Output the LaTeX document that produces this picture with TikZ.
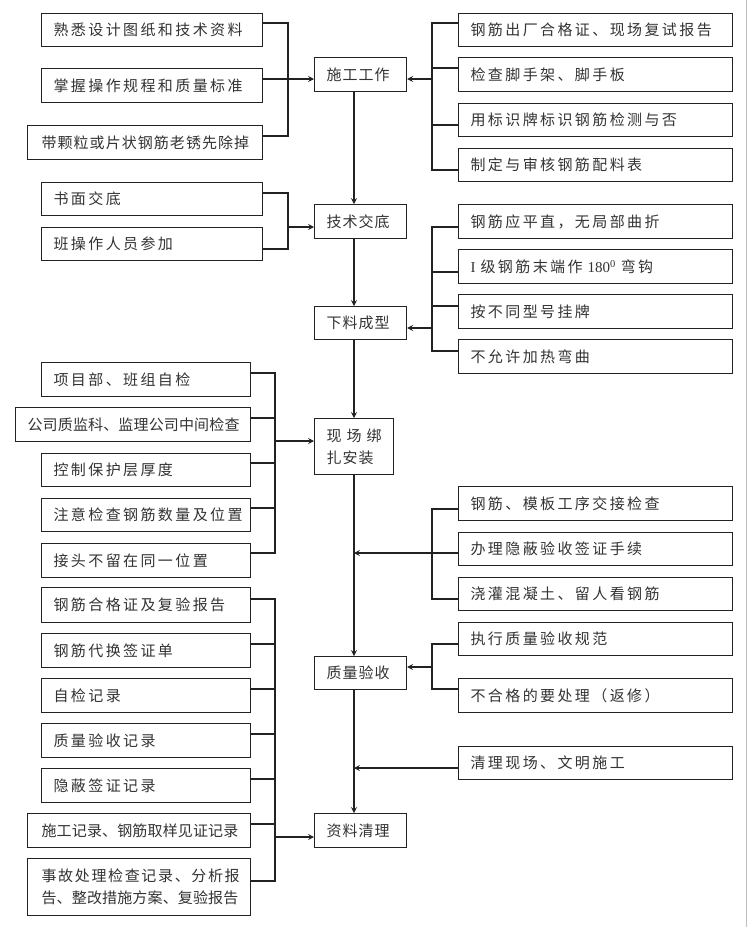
\documentclass[tikz,border=0pt]{standalone}
\usepackage{fontspec}
\setmainfont{Noto Sans CJK SC}
\newfontfamily\cjkA[LetterSpace=16]{Noto Sans CJK SC}
\newfontfamily\cjkB[LetterSpace=7]{Noto Sans CJK SC}
\newfontfamily\cjkC[LetterSpace=1]{Noto Sans CJK SC}
\newfontfamily\cjkD[LetterSpace=11]{Noto Sans CJK SC}
\newfontfamily\latin{Liberation Serif}
\usetikzlibrary{arrows.meta,calc}
\definecolor{ln}{HTML}{222222}
\definecolor{tx}{HTML}{333333}
\tikzset{
  box/.style={draw=ln, line width=1.2pt, inner xsep=12pt, inner ysep=0pt, align=left, text=tx,
    font=\cjkA\fontsize{15}{18}\selectfont},
  ln/.style={draw=ln, line width=1.2pt},
  arr/.style={ln, -{Stealth[length=6pt,width=6pt,inset=2.5pt]}}
}
\newcommand\bx[6]{%
  \pgfmathsetmacro\bw{#4-#2-24}%
  \pgfmathsetmacro\bh{#5-#3}%
  \node[box,anchor=north west,text width=\bw pt,minimum height=\bh pt] (#1) at (#2,#3) {#6};}
\begin{document}
\begin{tikzpicture}[x=1pt,y=-1pt]
\fill[white] (0,0) rectangle (752,927);
\useasboundingbox (0,0) rectangle (752,927);
\draw[gray!50, line width=1pt] (746,0) -- (746,927);
% boxes group 1
\bx{L1a}{41}{13}{262}{46}{熟悉设计图纸和技术资料}
\bx{L1b}{41}{68}{262}{102}{掌握操作规程和质量标准}
\bx{L1c}{27}{125}{262}{159}{\cjkB\hspace*{2pt}带颗粒或片状钢筋老锈先除掉}
\bx{A1}{314}{57}{406}{91}{\cjkB 施工工作}
\bx{R1a}{458}{13}{732}{46}{钢筋出厂合格证、现场复试报告}
\bx{R1b}{458}{57}{732}{91}{检查脚手架、脚手板}
\bx{R1c}{458}{103}{732}{136}{用标识牌标识钢筋检测与否}
\bx{R1d}{458}{148}{732}{181}{制定与审核钢筋配料表}
% group 2
\bx{L2a}{41}{182}{262}{215}{书面交底}
\bx{L2b}{41}{227}{262}{260}{班操作人员参加}
\bx{A2}{314}{204}{406}{238}{\cjkB 技术交底}
\bx{R2a}{458}{204}{732}{238}{钢筋应平直，无局部曲折}
\bx{R2b}{458}{249}{732}{283}{{\latin I}~级钢筋末端作~{\latin 180\textsuperscript{0}}~弯钩}
\bx{R2c}{458}{294}{732}{328}{按不同型号挂牌}
\bx{R2d}{458}{339}{732}{373}{不允许加热弯曲}
\bx{A3}{314}{306}{406}{339}{\cjkB 下料成型}
% group 3
\bx{L3a}{41}{362}{250}{396}{项目部、班组自检}
\bx{L3b}{15}{407}{250}{441}{\cjkC 公司质监科、监理公司中间检查}
\bx{L3c}{41}{453}{250}{486}{控制保护层厚度}
\bx{L3d}{41}{498}{250}{531}{注意检查钢筋数量及位置}
\bx{L3e}{41}{543}{250}{577}{接头不留在同一位置}
\bx{A4}{314}{418}{393}{474}{\cjkB 现~场~绑\\[4pt]扎安装}
% group 4
\bx{R4a}{458}{486}{732}{520}{钢筋、模板工序交接检查}
\bx{R4b}{458}{532}{732}{565}{办理隐蔽验收签证手续}
\bx{R4c}{458}{577}{732}{610}{浇灌混凝土、留人看钢筋}
\bx{A5}{314}{656}{406}{689}{\cjkB 质量验收}
\bx{R5a}{458}{622}{732}{655}{执行质量验收规范}
\bx{R5b}{458}{678}{732}{712}{不合格的要处理（返修）}
% group 6
\bx{L6a}{41}{587}{250}{622}{钢筋合格证及复验报告}
\bx{L6b}{41}{633}{250}{667}{钢筋代换签证单}
\bx{L6c}{41}{678}{250}{712}{自检记录}
\bx{L6d}{41}{723}{250}{757}{质量验收记录}
\bx{L6e}{41}{768}{250}{802}{隐蔽签证记录}
\bx{L6f}{27}{813}{250}{847}{\cjkC\hspace*{2pt}施工记录、钢筋取样见证记录}
\bx{L6g}{27}{858}{250}{915}{\cjkD\hspace*{2pt}事故处理检查记录、分析报\\[4pt]{\cjkC\hspace*{2pt}告、整改措施方案、复验报告}}
\bx{A6}{314}{813}{406}{847}{\cjkB 资料清理}
\bx{R6}{458}{746}{732}{779}{清理现场、文明施工}
% main line
\coordinate (m) at (354,0);
\draw[arr] (m |- A1.south) -- (m |- A2.north);
\draw[arr] (m |- A2.south) -- (m |- A3.north);
\draw[arr] (m |- A3.south) -- (m |- A4.north);
\draw[arr] (m |- A4.south) -- (m |- A5.north);
\draw[arr] (m |- A5.south) -- (m |- A6.north);
% group 1 connectors
\draw[ln] (L1a.east |- 0,23) -- (288,23) -- (288,136) -- (L1c.east |- 0,136);
\draw[ln] (L1b.east |- 0,79) -- (288,79);
\draw[arr] (288,79) -- (A1.west |- 0,79);
\draw[ln] (R1a.west |- 0,23) -- (432,23) -- (432,170) -- (R1d.west |- 0,170);
\draw[ln] (R1b.west |- 0,68) -- (432,68);
\draw[ln] (R1c.west |- 0,125) -- (432,125);
\draw[arr] (432,79) -- (A1.east |- 0,79);
% group 2
\draw[ln] (L2a.east |- 0,193) -- (288,193) -- (288,249) -- (L2b.east |- 0,249);
\draw[arr] (288,227) -- (A2.west |- 0,227);
\draw[ln] (R2a.west |- 0,227) -- (432,227) -- (432,351) -- (R2d.west |- 0,351);
\draw[ln] (R2b.west |- 0,272) -- (432,272);
\draw[ln] (R2c.west |- 0,306) -- (432,306);
\draw[arr] (432,328) -- (A3.east |- 0,328);
% group 3
\draw[ln] (L3a.east |- 0,373) -- (275,373) -- (275,553) -- (L3e.east |- 0,553);
\draw[ln] (L3b.east |- 0,418) -- (275,418);
\draw[ln] (L3c.east |- 0,463) -- (275,463);
\draw[ln] (L3d.east |- 0,508) -- (275,508);
\draw[arr] (275,441) -- (A4.west |- 0,441);
% group 4
\draw[ln] (R4a.west |- 0,509) -- (432,509) -- (432,599) -- (R4c.west |- 0,599);
\draw[arr] (R4b.west |- 0,553) -- (m |- 0,553);
% group 5
\draw[ln] (R5a.west |- 0,644) -- (432,644) -- (432,689) -- (R5b.west |- 0,689);
\draw[arr] (432,667) -- (A5.east |- 0,667);
% group 6
\draw[ln] (L6a.east |- 0,599) -- (275,599) -- (275,881) -- (L6g.east |- 0,881);
\draw[ln] (L6b.east |- 0,644) -- (275,644);
\draw[ln] (L6c.east |- 0,689) -- (275,689);
\draw[ln] (L6d.east |- 0,734) -- (275,734);
\draw[ln] (L6e.east |- 0,779) -- (275,779);
\draw[ln] (L6f.east |- 0,824) -- (275,824);
\draw[arr] (275,837) -- (A6.west |- 0,837);
\draw[arr] (R6.west |- 0,768) -- (m |- 0,768);
\end{tikzpicture}
\end{document}
